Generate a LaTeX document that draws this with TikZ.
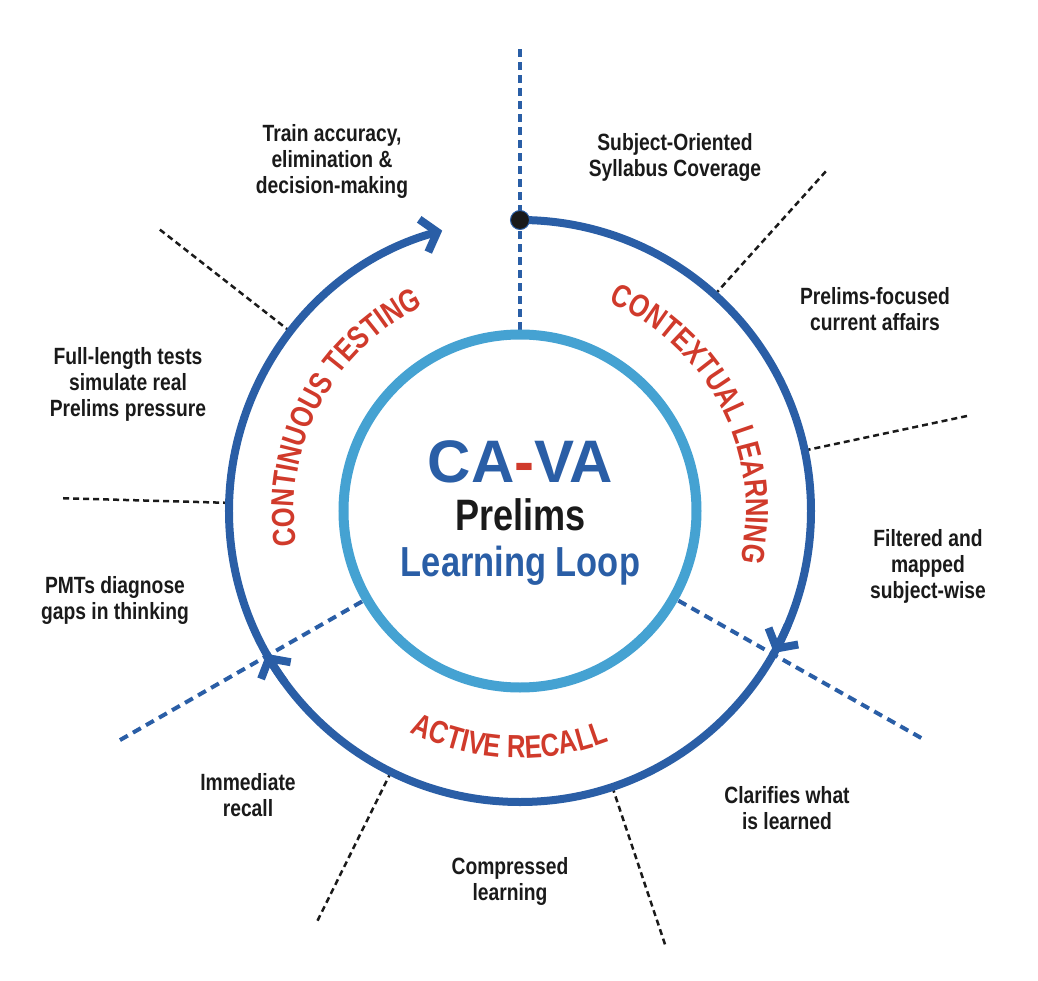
\documentclass[tikz,border=0pt]{standalone}
\usepackage{fontspec}
\setmainfont{Liberation Sans}
\newfontfamily\condb[FakeStretch=0.82]{Liberation Sans}
\newfontfamily\arcfam[FakeStretch=0.8]{Liberation Sans}
\usetikzlibrary{arrows.meta,decorations.text}
\definecolor{darkb}{HTML}{2A5EA6}
\definecolor{lightb}{HTML}{45A2D2}
\definecolor{redc}{HTML}{D03A2B}
\definecolor{ink}{HTML}{1A1A1A}
\newcommand\arcfont{\arcfam\bfseries\fontsize{32}{32}\selectfont}
\tikzset{
  outerc/.style={draw=darkb, line width=8pt},
  innerc/.style={draw=lightb, line width=10pt},
  bdash/.style={draw=darkb, line width=4pt, dash pattern=on 9pt off 6pt},
  tdash/.style={draw=darkb, line width=3.2pt, dash pattern=on 8pt off 5pt},
  kdot/.style={draw=ink, line width=2.5pt, dash pattern=on 6pt off 4pt},
  lbl/.style={font=\condb\bfseries\fontsize{23.5}{26}\selectfont, text=ink, align=center, inner sep=0pt},
  chev/.tip={Straight Barb[length=14pt,width=34pt]},
}
\begin{document}
\begin{tikzpicture}[x=1pt,y=1pt]
\useasboundingbox (-520,-469) rectangle (518,511);
\coordinate (c) at (0,0);
% radial blue dashed dividers
\coordinate (d1a) at (90:181);   \coordinate (d1b) at (90:466);
\coordinate (d2a) at (-29.5:182); \coordinate (d2b) at (-29.5:467);
\coordinate (d3a) at (209.8:182); \coordinate (d3b) at (209.8:464);
\draw[tdash] (d1a) -- (d1b);
\draw[bdash] (d2a) -- (d2b);
\draw[bdash] (d3a) -- (d3b);
% black dotted leaders
\foreach \a/\n in {48/k1, 12/k2, -71.5/k3, 243.7/k4, 178.4/k5, 142/k6}{
  \coordinate (\n a) at (\a:291);
  \coordinate (\n b) at (\a:460);
  \draw[kdot] (\n a) -- (\n b);
}
% inner circle
\draw[innerc] (c) circle[radius=176.5];
% outer loop
\draw[outerc, -{chev}] (90:291) arc[start angle=90, end angle=-254.5, radius=291];
\draw[outerc, -{chev}] (-23:291) arc[start angle=-23, end angle=-29.2, radius=291];
\draw[outerc, -{chev}] (216:291) arc[start angle=216, end angle=209.4, radius=291];
\node[circle, fill=ink, draw=darkb, line width=1pt, minimum size=19pt, inner sep=0pt] (dot) at (90:291) {};
% curved sector titles
\path[decorate, decoration={text along path, text align=center,
  text={|\arcfont\color{redc}|CONTEXTUAL LEARNING}}]
  (87:226) arc[start angle=87, end angle=-33, radius=226];
\path[decorate, decoration={text along path, text align=center,
  text={|\arcfont\color{redc}|CONTINUOUS TESTING}}]
  (212:226) arc[start angle=212, end angle=92, radius=226];
\path[decorate, decoration={text along path, text align=center,
  text={|\arcfont\color{redc}|ACTIVE RECALL}}]
  (-152.7:247) arc[start angle=-152.7, end angle=-32.7, radius=247];
% centre title
\node[font=\bfseries\fontsize{60}{60}\selectfont, text=darkb, anchor=base, inner sep=0pt] (cava) at (0.5,29) {CA\textcolor{redc}{-}VA};
\node[font=\condb\bfseries\fontsize{44}{44}\selectfont, text=ink, anchor=base, inner sep=0pt] (prel) at (0.5,-19) {Prelims};
\node[font=\condb\bfseries\fontsize{42}{42}\selectfont, text=darkb, anchor=base, inner sep=0pt] (loop) at (0.5,-65) {Learning Loop};
% outer labels
\node[lbl] (t1) at (-188,350) {Train accuracy,\\elimination \&\\decision-making};
\node[lbl] (t2) at (155,354) {Subject-Oriented\\Syllabus Coverage};
\node[lbl] (t3) at (355,202) {Prelims-focused\\current affairs};
\node[lbl] (t4) at (408,-55) {Filtered and\\mapped\\subject-wise};
\node[lbl] (t5) at (267,-297) {Clarifies what\\is learned};
\node[lbl] (t6) at (-10,-370) {Compressed\\learning};
\node[lbl] (t7) at (-272,-284) {Immediate\\recall};
\node[lbl] (t8) at (-405,-89) {PMTs diagnose\\gaps in thinking};
\node[lbl] (t9) at (-392,127) {Full-length tests\\simulate real\\Prelims pressure};
\end{tikzpicture}
\end{document}
